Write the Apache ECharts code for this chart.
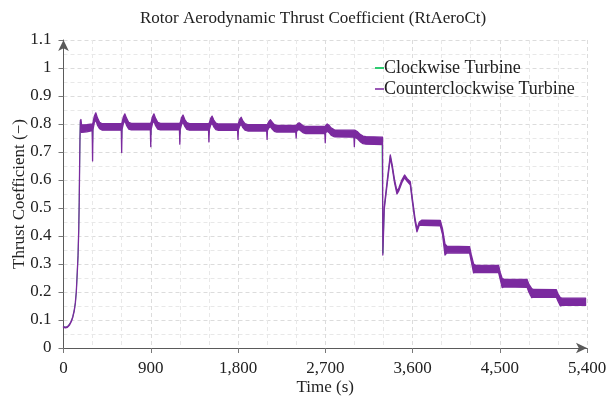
<!DOCTYPE html>
<html>
<head>
<meta charset="utf-8">
<script src="https://cdn.jsdelivr.net/npm/echarts@6/dist/echarts.min.js"></script>
<style>
html,body{margin:0;padding:0;background:#fff;}
#chart{width:606px;height:403px;}
</style>
</head>
<body>
<div id="chart"></div>
<script>
// Time stamps (s)
const times = [
  0,20,40,60,80,95,110,122,132,142,150,157,162,166,170,174,180,186,240,296,
  300,304,318,333,350,372,400,
  596,600,604,618,633,650,672,700,
  896,900,904,918,933,950,972,1000,
  1196,1200,1204,1218,1233,1250,1272,1300,
  1496,1500,1504,1518,1533,1550,1572,1600,
  1796,1800,1804,1818,1833,1850,1872,1900,
  2096,2100,2104,2120,2135,2155,2175,2200,
  2396,2400,2404,2420,2435,2455,2475,2500,
  2696,2700,2704,2720,2740,2760,2790,2800,
  2996,3000,3004,3030,3060,3090,3120,3286,
  3291,3294,3309,3340,3371,3390,3415,3440,3460,3490,3518,3545,3577,3600,3625,3646,3670,3698,
  3887,3910,3935,3955,
  4189,4205,4230,4250,
  4488,4505,4525,4545,
  4782,4800,4830,4850,
  5084,5100,5125,5143,5385
];
// Upper envelope of the oscillating thrust coefficient
const ctUpper = [
  0.076,0.074,0.076,0.083,0.096,0.111,0.133,0.161,0.201,0.271,0.331,0.421,0.521,0.641,0.751,0.812,0.816,0.797,0.798,0.800,
  0.800,0.805,0.828,0.840,0.822,0.806,0.801,
  0.801,0.801,0.806,0.826,0.836,0.821,0.806,0.802,
  0.802,0.802,0.806,0.826,0.836,0.820,0.806,0.802,
  0.802,0.802,0.805,0.823,0.832,0.817,0.805,0.801,
  0.801,0.801,0.804,0.820,0.828,0.814,0.803,0.800,
  0.800,0.800,0.803,0.817,0.824,0.811,0.801,0.798,
  0.798,0.798,0.800,0.810,0.815,0.806,0.798,0.795,
  0.795,0.795,0.797,0.803,0.804,0.798,0.793,0.791,
  0.791,0.791,0.794,0.800,0.795,0.786,0.780,0.779,
  0.778,0.778,0.778,0.773,0.763,0.757,0.755,0.753,
  0.753,0.345,0.505,0.600,0.690,0.655,0.600,0.560,0.572,0.600,0.618,0.605,0.594,0.530,0.465,0.426,0.450,0.457,
  0.456,0.425,0.372,0.364,
  0.362,0.335,0.300,0.296,
  0.295,0.270,0.248,0.246,
  0.245,0.228,0.212,0.209,
  0.208,0.193,0.180,0.178,0.178
];
// Lower envelope (includes the short downward spikes)
const ctLower = [
  0.074,0.072,0.074,0.081,0.094,0.109,0.131,0.159,0.199,0.269,0.329,0.419,0.519,0.639,0.749,0.800,0.792,0.770,0.772,0.776,
  0.668,0.780,0.805,0.815,0.796,0.783,0.778,
  0.778,0.698,0.781,0.802,0.812,0.795,0.782,0.779,
  0.779,0.719,0.781,0.802,0.811,0.794,0.782,0.779,
  0.779,0.728,0.780,0.799,0.807,0.792,0.781,0.778,
  0.778,0.736,0.779,0.796,0.803,0.790,0.780,0.777,
  0.777,0.745,0.779,0.793,0.799,0.787,0.778,0.775,
  0.775,0.745,0.777,0.787,0.790,0.781,0.774,0.771,
  0.771,0.750,0.773,0.779,0.779,0.773,0.768,0.766,
  0.766,0.733,0.769,0.774,0.769,0.760,0.755,0.754,
  0.753,0.719,0.753,0.748,0.737,0.730,0.728,0.726,
  0.727,0.332,0.497,0.590,0.680,0.645,0.590,0.550,0.562,0.590,0.608,0.595,0.583,0.519,0.454,0.415,0.438,0.438,
  0.436,0.405,0.332,0.340,
  0.339,0.312,0.268,0.270,
  0.269,0.245,0.216,0.218,
  0.217,0.200,0.180,0.182,
  0.181,0.168,0.150,0.152,0.152
];
const xTicks = [0, 900, 1800, 2700, 3600, 4500, 5400];
const yTicks = [0, 0.1, 0.2, 0.3, 0.4, 0.5, 0.6, 0.7, 0.8, 0.9, 1, 1.1];

const FONT = "'Liberation Serif','DejaVu Serif',serif";
const PURPLE = '#7b2a9f';
const PURPLE_LEGEND = '#9b59b6';
const GREEN = '#2ecc71';

const midData = times.map((t, i) => [t, (ctUpper[i] + ctLower[i]) / 2]);
const bandData = times.map((t, i) => [t, ctUpper[i], ctLower[i]]);

function renderBand(params, api) {
  if (params.dataIndex !== 0) return null;
  const pts = [];
  for (let i = 0; i < bandData.length; i++) pts.push(api.coord([bandData[i][0], bandData[i][1]]));
  for (let i = bandData.length - 1; i >= 0; i--) pts.push(api.coord([bandData[i][0], bandData[i][2]]));
  return {
    type: 'polygon',
    shape: {points: pts},
    style: {fill: PURPLE, stroke: PURPLE, lineWidth: 1.3, lineJoin: 'round'}
  };
}

const chart = echarts.init(document.getElementById('chart'), null, {renderer: 'canvas'});
chart.setOption({
  animation: false,
  backgroundColor: '#fff',
  title: {
    text: 'Rotor Aerodynamic Thrust Coefficient (RtAeroCt)',
    left: 135, top: 5,
    textStyle: {fontFamily: FONT, fontSize: 17, fontWeight: 'normal', color: '#222'}
  },
  legend: {
    orient: 'vertical',
    left: 375, top: 59,
    padding: 0,
    itemGap: 3,
    itemWidth: 9, itemHeight: 2,
    icon: 'rect',
    data: ['Clockwise Turbine', 'Counterclockwise Turbine'],
    textStyle: {fontFamily: FONT, fontSize: 18, color: '#222', padding: [0, 0, 0, -5]}
  },
  grid: {left: 63.5, right: 19, top: 40, bottom: 55, containLabel: false, outerBoundsMode: 'none'},
  xAxis: {
    type: 'value',
    min: xTicks[0], max: xTicks[xTicks.length - 1], interval: xTicks[1] - xTicks[0],
    name: 'Time (s)', nameLocation: 'middle', nameGap: 31, nameMoveOverlap: false,
    nameTextStyle: {fontFamily: FONT, fontSize: 17, color: '#222'},
    axisLine: {show: true, lineStyle: {color: '#5a5a5a', width: 1}, symbol: ['none', 'arrow'], symbolSize: [8, 11]},
    axisTick: {show: true, length: 5, lineStyle: {color: '#777'}},
    axisLabel: {fontFamily: FONT, fontSize: 17, color: '#222', margin: 12,
      formatter: v => v.toLocaleString('en-US')},
    splitLine: {show: true, lineStyle: {color: '#dcdcdc', type: [4, 3]}},
    minorTick: {show: false, splitNumber: 3},
    minorSplitLine: {show: true, lineStyle: {color: '#e8e8e8', type: [4, 3]}}
  },
  yAxis: {
    type: 'value',
    min: yTicks[0], max: yTicks[yTicks.length - 1], interval: 0.1,
    name: 'Thrust Coefficient (\u2212)', nameLocation: 'middle', nameGap: 35, nameRotate: 90, nameMoveOverlap: false,
    nameTextStyle: {fontFamily: FONT, fontSize: 17, color: '#222'},
    axisLine: {show: true, lineStyle: {color: '#5a5a5a', width: 1}, symbol: ['none', 'arrow'], symbolSize: [8, 11]},
    axisTick: {show: true, length: 5, lineStyle: {color: '#777'}},
    axisLabel: {fontFamily: FONT, fontSize: 17, color: '#222', margin: 12,
      formatter: v => String(Math.round(v * 10) / 10)},
    splitLine: {show: true, lineStyle: {color: '#dcdcdc', type: [4, 3]}},
    minorTick: {show: false, splitNumber: 2},
    minorSplitLine: {show: true, lineStyle: {color: '#e8e8e8', type: [4, 3]}}
  },
  series: [
    {
      name: 'Clockwise Turbine', type: 'line', symbol: 'none', showSymbol: false,
      itemStyle: {color: GREEN},
      lineStyle: {color: GREEN, width: 1},
      data: midData, z: 1
    },
    {
      name: 'Counterclockwise Turbine', type: 'custom',
      itemStyle: {color: PURPLE_LEGEND},
      encode: {x: 0, y: [1, 2]},
      renderItem: renderBand,
      data: bandData, z: 3
    }
  ]
});
</script>
</body>
</html>
